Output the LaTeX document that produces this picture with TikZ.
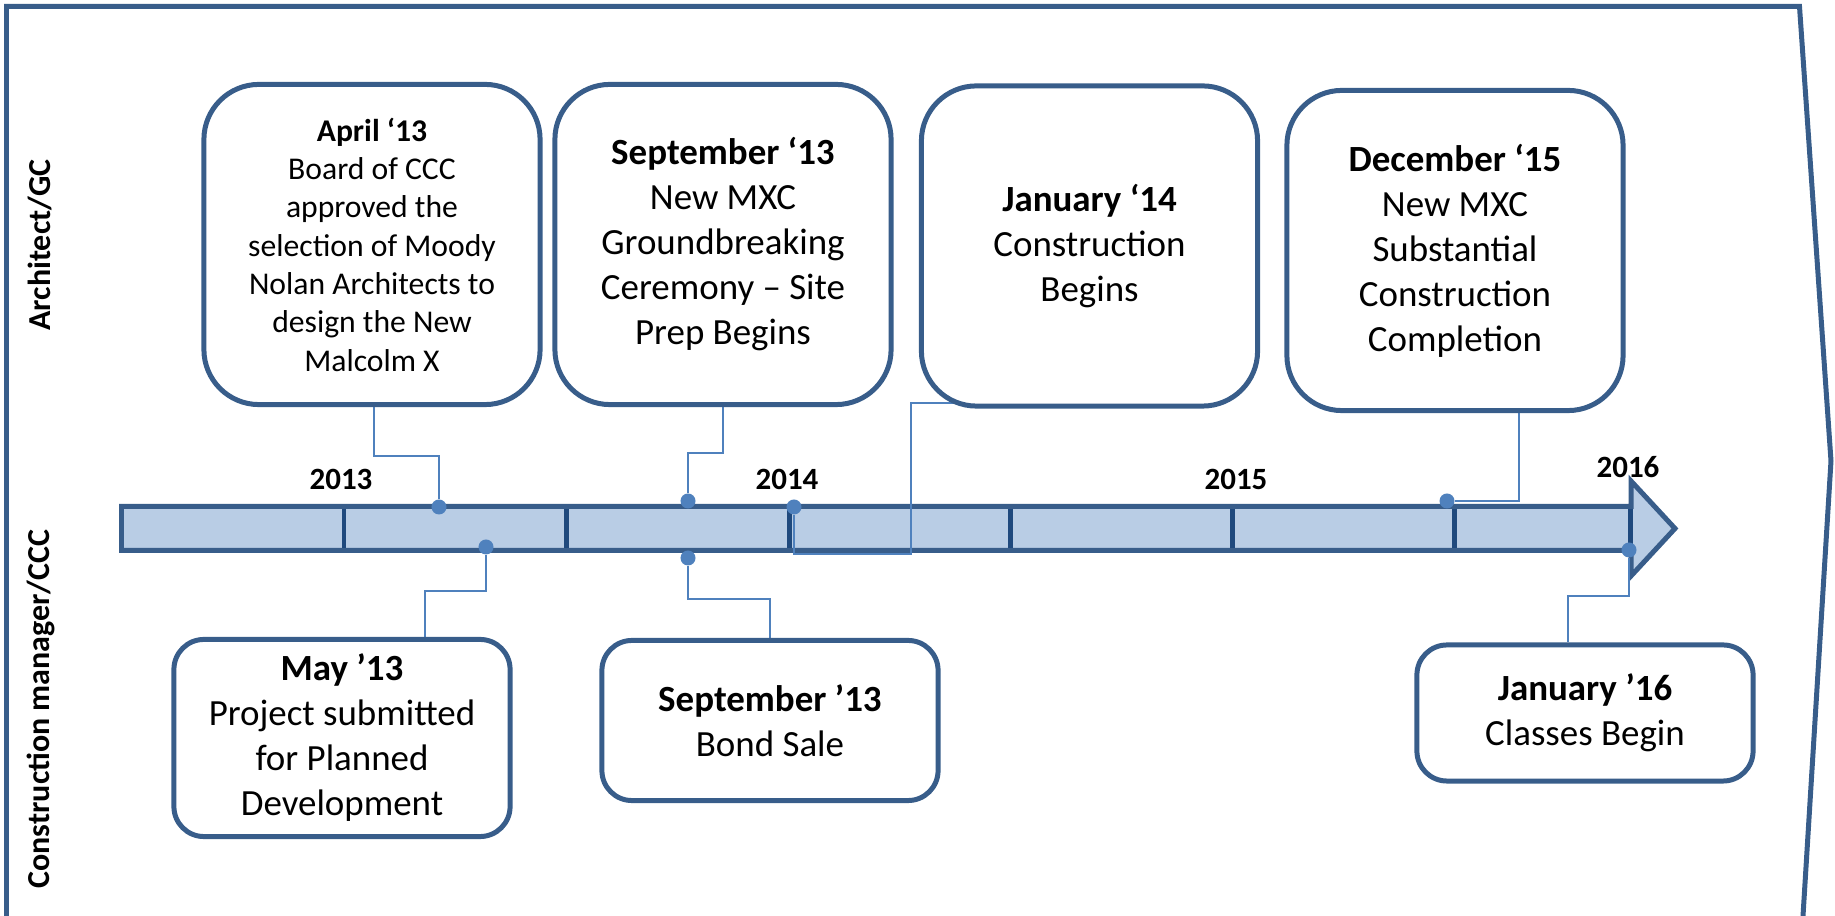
\documentclass[tikz,border=0pt]{standalone}
\usepackage{fontspec}
\setmainfont{Carlito}
\definecolor{frameblue}{HTML}{385D8A}
\definecolor{barfill}{HTML}{B9CDE5}
\definecolor{tickblue}{HTML}{1F497D}
\definecolor{linkblue}{HTML}{4F81BD}
\pgfdeclarelayer{back}
\pgfdeclarelayer{mid}
\pgfsetlayers{back,mid,main}
\tikzset{
  event/.style={draw=frameblue, line width=1.42pt, fill=white, align=center,
    minimum width=3.36cm, font=\fontsize{10.5}{12.8}\selectfont},
  topevent/.style={event, rounded corners=0.55cm, minimum height=3.2cm},
  lowevent/.style={event, rounded corners=0.3cm},
  dot/.style={circle, fill=linkblue, inner sep=0pt, minimum size=0.15cm},
  link/.style={draw=linkblue, line width=0.6pt},
  year/.style={font=\fontsize{8.8}{10.7}\selectfont\bfseries},
  lane/.style={rotate=90, font=\fontsize{9.1}{11}\selectfont\bfseries}
}
\begin{document}
\begin{tikzpicture}[x=0.01cm,y=-0.01cm]
\useasboundingbox (0,0) rectangle (1835,916);

\begin{pgfonlayer}{back}
\draw[frameblue, line width=1.42pt] (6.5,916) -- (6.5,6.5) -- (1799.5,6.5) -- (1831,461) -- (1803,916);
\draw[frameblue, line width=1.42pt, fill=barfill] (121.5,506.5) -- (1631,506.5) -- (1631,481)
  -- (1675,528.5) -- (1631,576) -- (1631,550.5) -- (121.5,550.5) -- cycle;
\foreach \x in {344,566,789,1010,1232,1454,1630}
  \draw[tickblue, line width=1.42pt] (\x,509) -- (\x,548);
\end{pgfonlayer}

\node[lane] (archgc) at (40,245) {Architect/GC};
\node[lane] (cmccc) at (41,709) {Construction manager/CCC};

\node[year] (y2013) at (341,479) {2013};
\node[year] (y2014) at (787,479) {2014};
\node[year] (y2015) at (1236,479) {2015};
\node[year] (y2016) at (1628,467) {2016};

\node[topevent, font=\fontsize{9}{10.9}\selectfont] (apr13) at (372,244.5)
  {\textbf{April ‘13}\\Board of CCC\\approved the\\selection of Moody\\Nolan Architects to\\design the New\\Malcolm X};
\node[topevent] (sep13) at (723,244.5)
  {\textbf{September ‘13}\\New MXC\\Groundbreaking\\Ceremony – Site\\Prep Begins};
\node[topevent] (jan14) at (1089.5,246) {\textbf{January ‘14}\\Construction\\Begins};
\node[topevent] (dec15) at (1455,250.5)
  {\textbf{December ‘15}\\New MXC\\Substantial\\Construction\\Completion};

\node[lowevent, minimum height=1.97cm] (may13) at (342,738)
  {\textbf{May ’13}\\Project submitted\\for Planned\\Development};
\node[lowevent, minimum height=1.6cm] (bond13) at (770,720.5) {\textbf{September ’13}\\Bond Sale};
\node[lowevent, minimum height=1.36cm] (jan16) at (1585,713) {\textbf{January ’16}\\Classes Begin};

\node[dot] (dapr) at (439,507) {};
\node[dot] (dsep) at (688,501) {};
\node[dot] (djan) at (794,507) {};
\node[dot] (ddec) at (1447,501) {};
\node[dot] (dmay) at (486,547) {};
\node[dot] (dbond) at (688,558) {};
\node[dot] (dcls) at (1629,550) {};

\begin{pgfonlayer}{mid}
\draw[link] (dapr) -- ++(0,-51) -| (apr13.south -| 374,0);
\draw[link] (dsep) -- ++(0,-48) -| (sep13.south);
\draw[link] (djan) |- (911,554) -- (911,403) -- (jan14.center |- 0,403);
\draw[link] (ddec) -| (1519,403) -- (dec15.center |- 0,403);
\draw[link] (dmay) -- ++(0,44) -| (may13.north -| 425,0);
\draw[link] (dbond) -- ++(0,41) -| (bond13.north);
\draw[link] (dcls) -- ++(0,46) -| (jan16.north -| 1568,0);
\end{pgfonlayer}
\end{tikzpicture}
\end{document}
